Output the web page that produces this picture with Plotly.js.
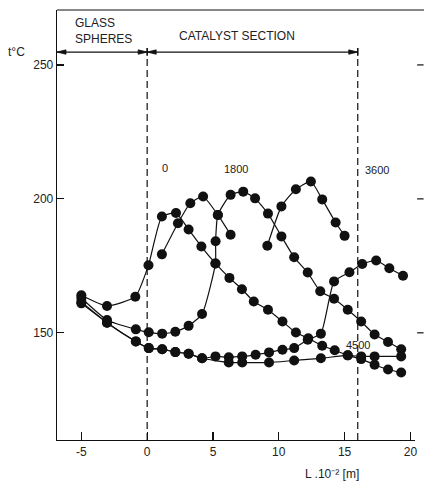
<!DOCTYPE html>
<html>
<head>
<meta charset="utf-8">
<script src="https://cdn.plot.ly/plotly-3.0.1.min.js"></script>
<style>html,body{margin:0;padding:0;background:#fff;}#chart{width:424px;height:483px;}</style>
</head>
<body>
<div id="chart"></div>
<script>
// Axial position L (10^-2 m) and temperature t (°C) for each profile
const xA = [-5, -3.05, -0.9, 0.1, 1.12, 2.19, 3.15, 4.12, 5.19, 6.25, 7.2, 8.1, 9.18, 10.28, 11.3, 12.24, 13.3, 14.25, 15.24, 16.26, 17.28, 18.3, 19.3];
const yA = [164, 160, 163.5, 175.2, 193.4, 194.7, 188.6, 182.2, 175.9, 170.5, 166.3, 161.7, 158.6, 154.2, 150.1, 148, 145.2, 143.5, 141.6, 140.2, 138.1, 136.3, 135.2];

const xB = [1.12, 2.34, 3.28, 4.25, 5.37, 6.34];
const yB = [179.3, 190.9, 198.4, 200.9, 194.0, 186.6];

const xC = [-5, -3.05, -0.86, 0.12, 1.14, 2.14, 3.15, 4.17, 5.19, 5.2, 5.37, 6.34, 7.3, 8.2, 9.18, 10.2, 11.17, 12.2, 13.15, 14.2, 15.24, 16.26, 17.28, 18.3, 19.3];
const yC = [163, 154.8, 151.3, 150.2, 149.7, 150.4, 152.6, 157, 175.9, 184.2, 194, 201.5, 202.7, 200.2, 194.5, 186, 178.2, 172.5, 165.5, 162.7, 158.6, 154.2, 149.4, 146.6, 143.9];

const xD = [9.13, 10.2, 11.3, 12.44, 13.3, 14.32, 15.0];
const yD = [182.5, 197.2, 203.6, 206.5, 199.8, 191.2, 186.2];

const xE = [-5, -3.05, -0.86, 0.12, 1.14, 2.14, 3.15, 4.17, 5.19, 6.2, 7.22, 8.24, 9.26, 10.28, 11.17, 12.2, 13.2, 14.2, 15.37, 16.34, 17.4, 18.4, 19.44];
const yE = [161.5, 153.8, 146.8, 144.3, 143.9, 142.8, 142.2, 140.5, 141.2, 140.9, 141.2, 141.8, 142.7, 143.7, 144.3, 147.4, 149.7, 169.2, 172.6, 175.7, 177, 174.1, 171.3];

const xF = [-5, -3.05, -0.86, 0.12, 1.14, 2.14, 3.15, 4.17, 6.2, 7.22, 9.26, 11.17, 13.2, 15.24, 16.26, 17.28, 19.3];
const yF = [161, 153.8, 146.8, 144.3, 143.9, 142.8, 142.2, 140.5, 138.9, 138.9, 138.9, 139.7, 140.5, 141.6, 141.2, 141.2, 141.2];

const xTicks = [-5, 0, 5, 10, 15, 20];
const yTicks = [150, 200, 250];

const sectionEdges = [0, 16];   // glass spheres | catalyst section | end
const bracketY = 254.8;

const curveLabels = ["0", "1800", "3600", "4500"];
const labelX = [1.37, 6.76, 17.44, 16.0];
const labelY = [211.6, 211.2, 210.8, 145.5];

const series = [[xA, yA], [xB, yB], [xC, yC], [xD, yD], [xE, yE], [xF, yF]];
const ink = '#111';

const traces = series.map(s => ({
  x: s[0], y: s[1], type: 'scatter', mode: 'lines+markers',
  line: {color: ink, width: 1.2, shape: 'spline', smoothing: 0.5},
  marker: {color: ink, size: 10},
  showlegend: false, hoverinfo: 'skip'
}));

const fontT = {family: 'Liberation Sans, Arial, sans-serif', size: 12, color: '#222'};

const shapes = [];
// top border
shapes.push({type: 'line', xref: 'paper', yref: 'paper', x0: 0, x1: 1.03, y0: 1, y1: 1, line: {color: ink, width: 1.2}});
// dashed section boundaries
sectionEdges.forEach(v => {
  shapes.push({type: 'line', xref: 'x', yref: 'y', x0: v, x1: v, y0: 110, y1: bracketY + 1.5, line: {color: ink, width: 1.2, dash: '7px,4px'}});
  shapes.push({type: 'line', xref: 'x', yref: 'y', x0: v, x1: v, y0: bracketY - 1.5, y1: bracketY + 1.5, line: {color: ink, width: 1.2}});
});
// bracket line
shapes.push({type: 'line', xref: 'paper', yref: 'y', x0: 0, x1: (16 + 6.85) / 27.2, y0: bracketY, y1: bracketY, line: {color: ink, width: 1.2}});
// bracket arrowheads (pixel-sized triangles anchored on the bracket)
const head = (xref, x, dir) => ({type: 'path', xref: xref, yref: 'y', xsizemode: 'pixel', ysizemode: 'pixel',
  xanchor: x, yanchor: bracketY,
  path: dir > 0 ? 'M0,0 L-9,-2.2 L-9,2.2 Z' : 'M0,0 L9,-2.2 L9,2.2 Z',
  fillcolor: ink, line: {color: ink, width: 0.8}});
shapes.push(head('paper', 0, -1));
shapes.push(head('x', 0, 1));
shapes.push(head('x', 0, -1));
shapes.push(head('x', 16, 1));
// right-side tick marks
yTicks.forEach(v => {
  shapes.push({type: 'line', xref: 'paper', yref: 'y', x0: 1.006, x1: 1.024, y0: v, y1: v, line: {color: ink, width: 1.2}});
});

const annotations = [
  {xref: 'x', yref: 'y', x: -5.62, y: 265.6, xanchor: 'left', yanchor: 'middle', showarrow: false,
   text: 'GLASS', font: fontT},
  {xref: 'x', yref: 'y', x: -5.62, y: 259.6, xanchor: 'left', yanchor: 'middle', showarrow: false,
   text: 'SPHERES', font: fontT},
  {xref: 'x', yref: 'y', x: 6.84, y: 260.8, xanchor: 'center', yanchor: 'middle', showarrow: false,
   text: 'CATALYST SECTION', font: fontT},
  {xref: 'paper', yref: 'paper', x: -0.112, y: 0.902, xanchor: 'center', yanchor: 'middle', showarrow: false,
   text: 't°C', font: fontT},
  {xref: 'paper', yref: 'paper', x: 0.768, y: -0.079, xanchor: 'center', yanchor: 'middle', showarrow: false,
   text: 'L .10⁻² [m]', font: fontT}
];
curveLabels.forEach((t, i) => annotations.push({xref: 'x', yref: 'y', x: labelX[i], y: labelY[i], showarrow: false,
  text: t, font: {family: fontT.family, size: 11, color: '#222'}}));

const layout = {
  width: 424, height: 483,
  margin: {l: 57, r: 9, t: 10, b: 43},
  paper_bgcolor: '#fff', plot_bgcolor: '#fff',
  showlegend: false,
  xaxis: {range: [-6.85, 20.35], tickvals: xTicks, ticktext: xTicks.map(String), ticks: 'inside', ticklen: 8,
    tickcolor: ink, tickwidth: 1.2, showline: true, linecolor: ink, linewidth: 1.3, showgrid: false, zeroline: false,
    tickfont: fontT},
  yaxis: {range: [110, 270.5], tickvals: yTicks, ticktext: yTicks.map(String), ticks: 'inside', ticklen: 7,
    tickcolor: ink, tickwidth: 1.2, showline: true, linecolor: ink, linewidth: 1.3, showgrid: false, zeroline: false,
    tickfont: fontT},
  shapes: shapes,
  annotations: annotations
};

Plotly.newPlot('chart', traces, layout, {staticPlot: true, displayModeBar: false}).then(gd => {
  // drop empty placeholder text nodes (unused axis titles)
  gd.querySelectorAll('text').forEach(t => { if (!t.textContent.trim()) t.remove(); });
});
</script>
</body>
</html>
